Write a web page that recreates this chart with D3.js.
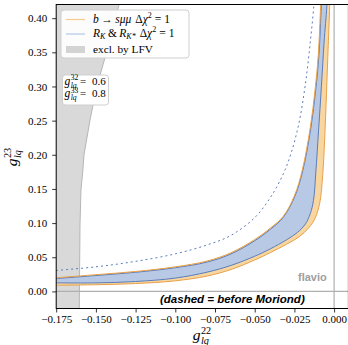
<!DOCTYPE html>
<html>
<head>
<meta charset="utf-8" />
<style>
  body { margin: 0; background: #fff; }
  svg text { font-family: "Liberation Serif", serif; }
</style>
</head>
<body>
<svg width="348" height="345"></svg>
<script src="https://d3js.org/d3.v7.min.js"></script>
<script>
// ---- data: [g22, g23] ----
var bsmumuUpper = [[-0.175, 0.0200], [-0.150, 0.0245], [-0.125, 0.0292], [-0.100, 0.0360], [-0.080, 0.0445],
  [-0.065, 0.0565], [-0.050, 0.0760], [-0.040, 0.0930], [-0.032, 0.1100], [-0.025, 0.1400], [-0.020, 0.1780],
  [-0.015, 0.2400], [-0.012, 0.2950], [-0.010, 0.3450], [-0.0085, 0.4167], [-0.008, 0.44]];
var bsmumuLower = [[-0.175, 0.0090], [-0.150, 0.0098], [-0.125, 0.0115], [-0.100, 0.0155], [-0.080, 0.0225],
  [-0.065, 0.0320], [-0.050, 0.0460], [-0.040, 0.0570], [-0.030, 0.0690], [-0.022, 0.0800], [-0.016, 0.0930],
  [-0.012, 0.1070], [-0.009, 0.1300], [-0.0072, 0.1700], [-0.0060, 0.2200], [-0.0048, 0.2900], [-0.0037, 0.3600],
  [-0.0028, 0.4167], [-0.0026, 0.44]];
var rkUpper = [[-0.175, 0.0188], [-0.150, 0.0233], [-0.125, 0.0280], [-0.100, 0.0347], [-0.080, 0.0430],
  [-0.065, 0.0548], [-0.050, 0.0742], [-0.040, 0.0912], [-0.032, 0.1085], [-0.0246, 0.1400], [-0.0196, 0.1780],
  [-0.0146, 0.2400], [-0.0116, 0.2950], [-0.0096, 0.3450], [-0.0081, 0.4167], [-0.0076, 0.44]];
var rkLower = [[-0.175, 0.0125], [-0.150, 0.0125], [-0.125, 0.0145], [-0.100, 0.0195], [-0.080, 0.0282],
  [-0.065, 0.0380], [-0.050, 0.0515], [-0.040, 0.0625], [-0.030, 0.0755], [-0.023, 0.0865], [-0.018, 0.0990],
  [-0.015, 0.1140], [-0.013, 0.1330], [-0.0115, 0.1750], [-0.0098, 0.2350], [-0.0080, 0.3000], [-0.0063, 0.3650],
  [-0.0046, 0.4167], [-0.0043, 0.44]];
var rkBefore = [[-0.175, 0.0307], [-0.150, 0.0360], [-0.125, 0.0440], [-0.100, 0.0550], [-0.080, 0.0680],
  [-0.065, 0.0820], [-0.050, 0.1080], [-0.040, 0.1380], [-0.032, 0.1720], [-0.027, 0.2030], [-0.022, 0.2480],
  [-0.018, 0.3050], [-0.015, 0.3650], [-0.0128, 0.4167], [-0.012, 0.44]];
var lfvEdge = [[-0.1605, -0.03], [-0.1600, 0.099], [-0.1594, 0.1487], [-0.1583, 0.175], [-0.1575, 0.200],
  [-0.1537, 0.251], [-0.1495, 0.2993], [-0.1443, 0.3417], [-0.1348, 0.425]];
var xTicks = [-0.175, -0.150, -0.125, -0.100, -0.075, -0.050, -0.025, 0.000];
var yTicks = [0.00, 0.05, 0.10, 0.15, 0.20, 0.25, 0.30, 0.35, 0.40];
var couplings = [["32", "0.6"], ["33", "0.8"]];

var svg = d3.select("svg");
var pLeft = 56.2, pRight = 348.4, pTop = 4.5, pBottom = 308.5;
var x = d3.scaleLinear().domain([-0.175, 0.009]).range([pLeft, pRight]);
var y = d3.scaleLinear().domain([-0.025, 0.42]).range([pBottom, pTop]);

svg.append("clipPath").attr("id", "plotclip")
  .append("rect").attr("x", pLeft).attr("y", pTop).attr("width", pRight - pLeft).attr("height", pBottom - pTop);

var plot = svg.append("g").attr("clip-path", "url(#plotclip)");

var line = d3.line().x(function (d) { return x(d[0]); }).y(function (d) { return y(d[1]); })
  .curve(d3.curveCatmullRom.alpha(0.5));
var straight = d3.line().x(function (d) { return x(d[0]); }).y(function (d) { return y(d[1]); });

function band(upper, lower) {
  var a = line(upper);
  var b = line(lower.slice().reverse());
  return a + "L" + b.slice(1) + "Z";
}

// LFV excluded region
var lfvPoly = [[-0.2, -0.03]].concat(lfvEdge).concat([[-0.2, 0.425]]);
plot.append("path").attr("d", straight(lfvPoly) + "Z").attr("fill", "#d9d9d9");
plot.append("path").attr("d", straight(lfvEdge))
  .attr("fill", "none").attr("stroke", "#b5b5b5").attr("stroke-width", 1);

// zero lines
plot.append("line").attr("x1", pLeft).attr("x2", pRight).attr("y1", y(0)).attr("y2", y(0))
  .attr("stroke", "#b0b0b0").attr("stroke-width", 1.2);
plot.append("line").attr("x1", x(0)).attr("x2", x(0)).attr("y1", pTop).attr("y2", pBottom)
  .attr("stroke", "#b0b0b0").attr("stroke-width", 1.2);

// b -> s mu mu band
plot.append("path").attr("d", band(bsmumuUpper, bsmumuLower)).attr("fill", "#f8d6a0");
// RK band
plot.append("path").attr("d", band(rkUpper, rkLower)).attr("fill", "#b7c9e5");

[rkUpper, rkLower].forEach(function (c) {
  plot.append("path").attr("d", line(c)).attr("fill", "none").attr("stroke", "#5a7dbb").attr("stroke-width", 1);
});
[bsmumuUpper, bsmumuLower].forEach(function (c) {
  plot.append("path").attr("d", line(c)).attr("fill", "none").attr("stroke", "#e8a04a").attr("stroke-width", 1);
});

// before Moriond
plot.append("path").attr("d", line(rkBefore)).attr("fill", "none")
  .attr("stroke", "#5a7dbb").attr("stroke-width", 1).attr("stroke-dasharray", "2,3");

// texts in plot
svg.append("text").attr("x", 298).attr("y", 281).text("flavio")
  .style("font-family", "'Liberation Sans', sans-serif").style("font-weight", "bold")
  .style("font-size", "11px").attr("fill", "#a0a0a0");
svg.append("text").attr("x", 160).attr("y", 303).text("(dashed = before Moriond)")
  .style("font-family", "'Liberation Sans', sans-serif").style("font-weight", "bold").style("font-style", "italic")
  .style("font-size", "11.5px").attr("fill", "#000");

// axes
var fmtX = function (d) { return (d < 0 ? "\u2212" : "") + Math.abs(d).toFixed(3); };
var fmtY = function (d) { return d.toFixed(2); };
var xAxis = svg.append("g").attr("transform", "translate(0," + pBottom + ")")
  .call(d3.axisBottom(x).tickValues(xTicks).tickFormat(fmtX).tickSize(4).tickPadding(3));
var yAxis = svg.append("g").attr("transform", "translate(" + pLeft + ",0)")
  .call(d3.axisLeft(y).tickValues(yTicks).tickFormat(fmtY).tickSize(4).tickPadding(5));
[xAxis, yAxis].forEach(function (a) {
  a.select(".domain").remove();
  a.selectAll("text").style("font-family", "'Liberation Serif', serif").style("font-size", "11px").attr("fill", "#000");
  a.selectAll("line").attr("stroke", "#000").attr("stroke-width", 0.8);
});

svg.append("rect").attr("x", pLeft).attr("y", pTop).attr("width", pRight - pLeft).attr("height", pBottom - pTop)
  .attr("fill", "none").attr("stroke", "#000").attr("stroke-width", 1);

// g_lq^NN symbol
function gSym(g, px, py, sup, size) {
  var t = g.append("text").attr("x", px).attr("y", py).style("font-size", size + "px")
    .style("font-style", "italic").text("g");
  var w = t.node().getComputedTextLength();
  var s = size * 0.66;
  var sub = g.append("text").attr("x", px + w + 0.4).attr("y", py + size * 0.28).style("font-size", s + "px")
    .style("font-style", "italic").text("lq");
  var sp = g.append("text").attr("x", px + w + 0.4).attr("y", py - size * 0.38).style("font-size", s + "px").text(sup);
  var w2 = Math.max(sub.node().getComputedTextLength(), sp.node().getComputedTextLength());
  return w + 0.4 + w2;
}

// axis labels
var xl = svg.append("g");
var xw = gSym(xl, 0, 0, "22", 15.5);
xl.attr("transform", "translate(" + (202 - xw / 2) + ",339.5)");
var yl = svg.append("g");
var yw = gSym(yl, 0, 0, "23", 15.5);
yl.attr("transform", "translate(16.5," + (157 + yw / 2) + ") rotate(-90)");

// legend
var lg = svg.append("g");
lg.append("rect").attr("x", 61).attr("y", 10).attr("width", 128).attr("height", 48).attr("rx", 3)
  .attr("fill", "#fff").attr("fill-opacity", 0.92).attr("stroke", "#cfcfcf").attr("stroke-width", 1);
lg.append("line").attr("x1", 66).attr("x2", 85).attr("y1", 19.5).attr("y2", 19.5).attr("stroke", "#f7c98a").attr("stroke-width", 1.2);
lg.append("line").attr("x1", 66).attr("x2", 85).attr("y1", 34).attr("y2", 34).attr("stroke", "#b3c8e6").attr("stroke-width", 1.2);
lg.append("rect").attr("x", 66).attr("y", 46).attr("width", 19).attr("height", 7).attr("fill", "#d3d3d3");

var t1 = lg.append("text").attr("x", 93).attr("y", 22.5).style("font-size", "11.5px");
t1.append("tspan").style("font-style", "italic").text("b");
t1.append("tspan").attr("dx", 2.5).text("\u2192");
t1.append("tspan").attr("dx", 2.5).style("font-style", "italic").text("s\u03bc\u03bc");
t1.append("tspan").attr("dx", 4).text("\u0394");
t1.append("tspan").style("font-style", "italic").text("\u03c7");
t1.append("tspan").attr("dy", -4.5).style("font-size", "8px").text("2");
t1.append("tspan").attr("dy", 4.5).attr("dx", 3).text("=");
t1.append("tspan").attr("dx", 3).text("1");

var t2 = lg.append("text").attr("x", 93).attr("y", 36.5).style("font-size", "11.5px");
t2.append("tspan").style("font-style", "italic").text("R");
t2.append("tspan").attr("dy", 2.5).style("font-size", "8px").style("font-style", "italic").text("K");
t2.append("tspan").attr("dy", -2.5).attr("dx", 2.5).text("&");
t2.append("tspan").attr("dx", 2.5).style("font-style", "italic").text("R");
t2.append("tspan").attr("dy", 2.5).style("font-size", "8px").style("font-style", "italic").text("K*");
t2.append("tspan").attr("dy", -2.5).attr("dx", 4).text("\u0394");
t2.append("tspan").style("font-style", "italic").text("\u03c7");
t2.append("tspan").attr("dy", -4.5).style("font-size", "8px").text("2");
t2.append("tspan").attr("dy", 4.5).attr("dx", 3).text("=");
t2.append("tspan").attr("dx", 3).text("1");

lg.append("text").attr("x", 93).attr("y", 53).style("font-size", "11.3px").text("excl. by LFV");

// couplings box
var cb = svg.append("g");
cb.append("rect").attr("x", 62.5).attr("y", 75).attr("width", 46).attr("height", 30).attr("rx", 3)
  .attr("fill", "#fff").attr("stroke", "#cfcfcf").attr("stroke-width", 1);
couplings.forEach(function (c, i) {
  var g = cb.append("g");
  gSym(g, 0, 0, c[0], 11.5);
  g.append("text").attr("x", 15.5).attr("y", 0).style("font-size", "11px").text("=");
  g.append("text").attr("x", 27.5).attr("y", 0).style("font-size", "11px").text(c[1]);
  g.attr("transform", "translate(64.5," + (84.5 + i * 12.5) + ")");
});
</script>
</body>
</html>
